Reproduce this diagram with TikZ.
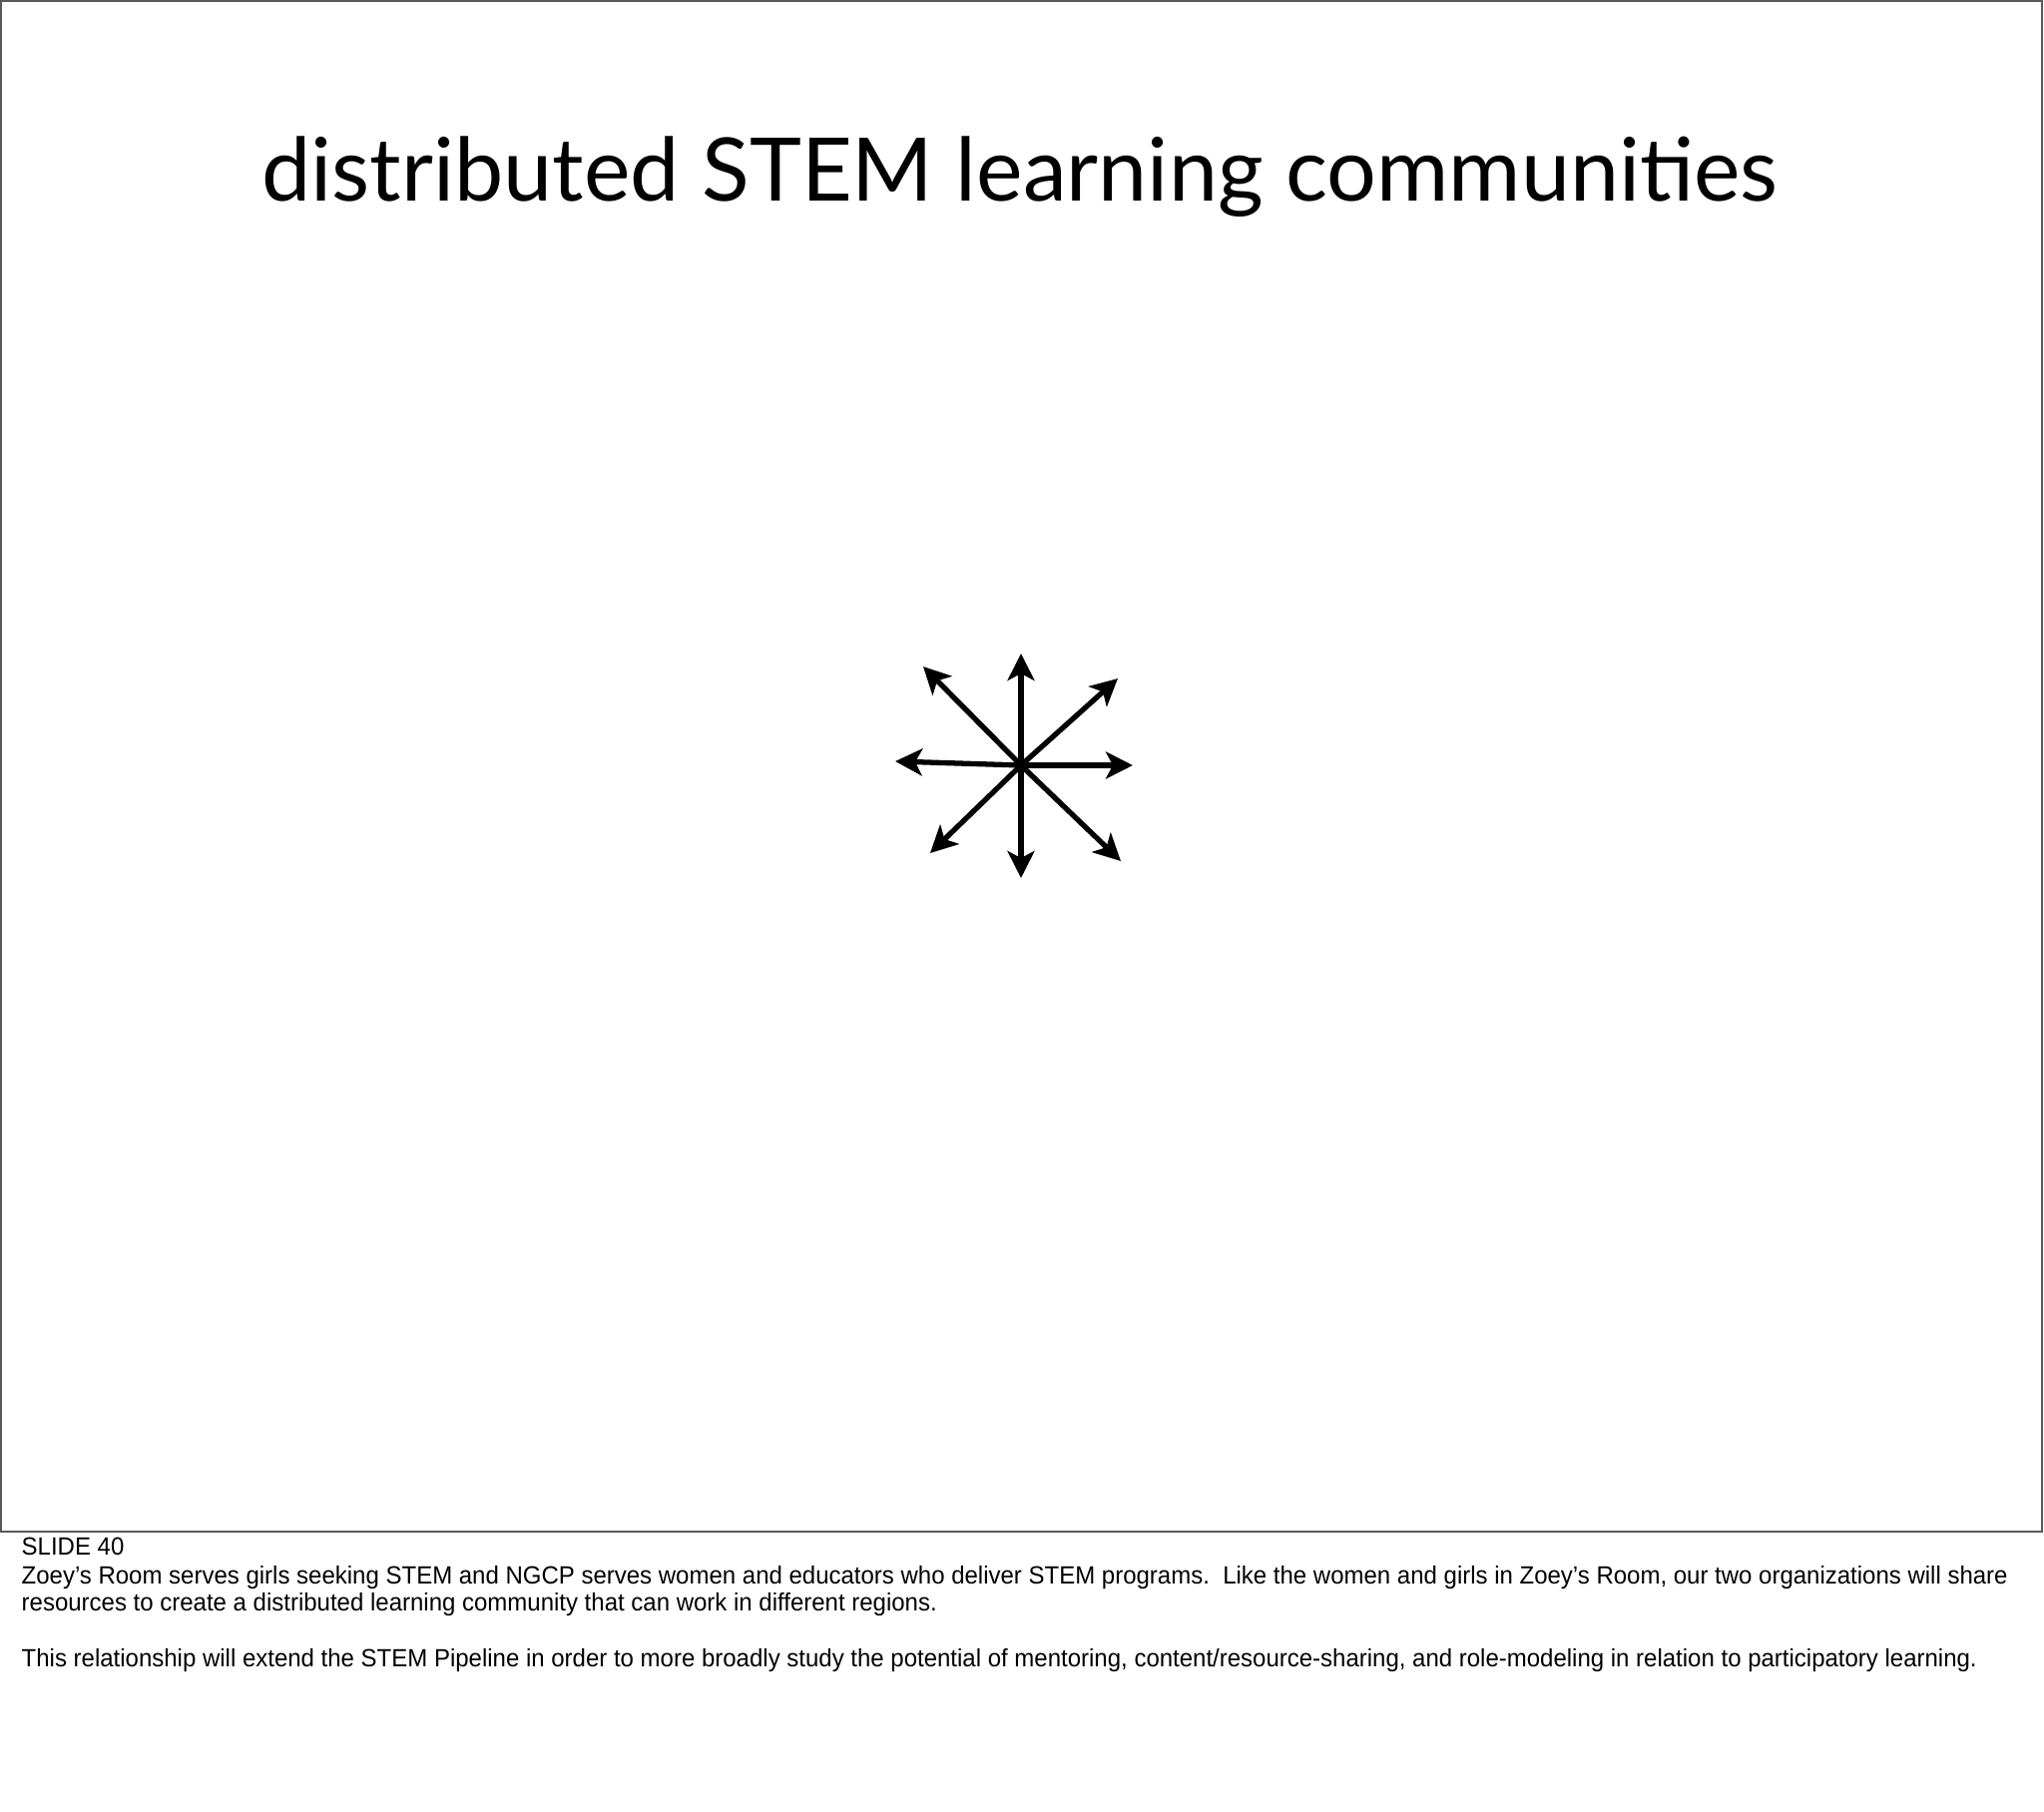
\documentclass[tikz,border=0pt]{standalone}
\usepackage{fontspec}
\setmainfont[FakeStretch=0.961]{Liberation Sans}
\newfontfamily\titlefont{Lato}
\usetikzlibrary{arrows.meta}
\tikzset{
  spoke/.style={-{Stealth[length=0.27cm,width=0.27cm,inset=0.07cm]}, line width=1.5pt},
  note/.style={anchor=base west, inner sep=0pt, font=\fontsize{7.1}{8.5}\selectfont}
}
\begin{document}
\begin{tikzpicture}[x=0.01cm,y=-0.01cm]
				\useasboundingbox (0,0) rectangle (2048,1816);
				\draw[line width=0.6pt, black!65] (1,1) rectangle (2046,1535);
				\draw (1022,202) node[anchor=base, inner sep=0pt] (title) {\titlefont\fontsize{25}{30}\selectfont distributed STEM learning communities};
				\coordinate (hub) at (1023,767);
				\coordinate (n) at (1023,655);
				\coordinate (s) at (1023,880);
				\coordinate (w) at (897,763);
				\coordinate (e) at (1135,767);
				\coordinate (nw) at (925,668);
				\coordinate (ne) at (1120,680);
				\coordinate (sw) at (932,855);
				\coordinate (se) at (1123,863);
				\foreach \d in {n,s,w,e,nw,ne,sw,se}
					\draw[spoke] (hub) -- (\d);
				\draw (21,1558) node[note] (slide) {SLIDE 40};
				\draw (21,1587) node[note] (line1) {Zoey’s Room serves girls seeking STEM and NGCP serves women and educators who deliver STEM programs.\ \ Like the women and girls in Zoey’s Room, our two organizations will share};
				\draw (21,1614) node[note] (line2) {resources to create a distributed learning community that can work in different regions.};
				\draw (21,1670) node[note] (line3) {This relationship will extend the STEM Pipeline in order to more broadly study the potential of mentoring, content/resource-sharing, and role-modeling in relation to participatory learning.};
			\end{tikzpicture}
\end{document}
